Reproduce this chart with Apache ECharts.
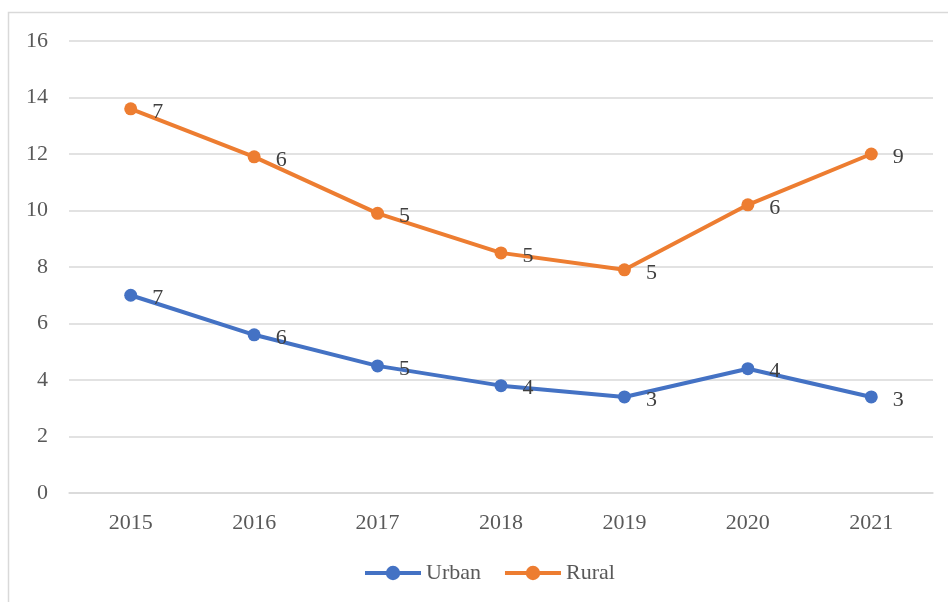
<!DOCTYPE html>
<html>
<head>
<meta charset="utf-8">
<script src="https://cdn.jsdelivr.net/npm/echarts@6/dist/echarts.min.js"></script>
<style>
  html, body { margin: 0; padding: 0; background: #fff; }
  #chart { width: 948px; height: 602px; }
</style>
</head>
<body>
<div id="chart"></div>
<script>
// categories and values
var years = ['2015', '2016', '2017', '2018', '2019', '2020', '2021'];
var urban = [7.0, 5.6, 4.5, 3.8, 3.4, 4.4, 3.4];
var rural = [13.6, 11.9, 9.9, 8.5, 7.9, 10.2, 12.0];
// the data labels shown next to the points
var urbanLabels = [7, 6, 5, 4, 3, 4, 3];
var ruralLabels = [7, 6, 5, 5, 5, 6, 9];

var serif = '"Liberation Serif", "DejaVu Serif", serif';

let makeSeries = function(name, values, labels, color){
    return {
        name: name,
        type: 'line',
        data: values,
        symbol: 'circle',
        symbolSize: 13,
        lineStyle: { width: 4, color: color },
        itemStyle: { color: color },
        label: {
            show: true,
            position: 'right',
            distance: 15,
            offset: [0, 3],
            fontFamily: serif,
            fontSize: 22,
            color: '#404040',
            formatter: function(p){ return labels[p.dataIndex]; }
        }
    };
};

var myChart = echarts.init(document.getElementById('chart'));
var option = {
    animation: false,
    textStyle: { fontFamily: serif },
    graphic: [{
        type: 'rect',
        shape: { x: 8.5, y: 12.5, width: 1000, height: 700 },
        style: { fill: 'none', stroke: '#d9d9d9', lineWidth: 1.5 },
        silent: true
    }],
    grid: { left: 69, right: 15, top: 41, bottom: 109 },
    legend: {
        top: 557,
        left: 358,
        itemWidth: 56,
        itemHeight: 18,
        itemGap: 22,
        lineStyle: { width: 4 },
        textStyle: { fontFamily: serif, fontSize: 22, color: '#595959', padding: [0, 0, 0, 0] },
        data: ['Urban', 'Rural']
    },
    xAxis: {
        type: 'category',
        data: years,
        axisLine: { lineStyle: { color: '#d9d9d9', width: 1.5 } },
        axisTick: { show: false },
        axisLabel: { fontFamily: serif, fontSize: 22, color: '#595959', margin: 19 }
    },
    yAxis: {
        type: 'value',
        min: 0,
        max: 16,
        interval: 2,
        axisLine: { show: false },
        axisTick: { show: false },
        splitLine: { lineStyle: { color: '#d9d9d9', width: 1.5 } },
        axisLabel: { fontFamily: serif, fontSize: 22, color: '#595959', margin: 21 }
    },
    series: [
        makeSeries('Urban', urban, urbanLabels, '#4472C4'),
        makeSeries('Rural', rural, ruralLabels, '#ED7D31')
    ]
};
myChart.setOption(option);
</script>
</body>
</html>
